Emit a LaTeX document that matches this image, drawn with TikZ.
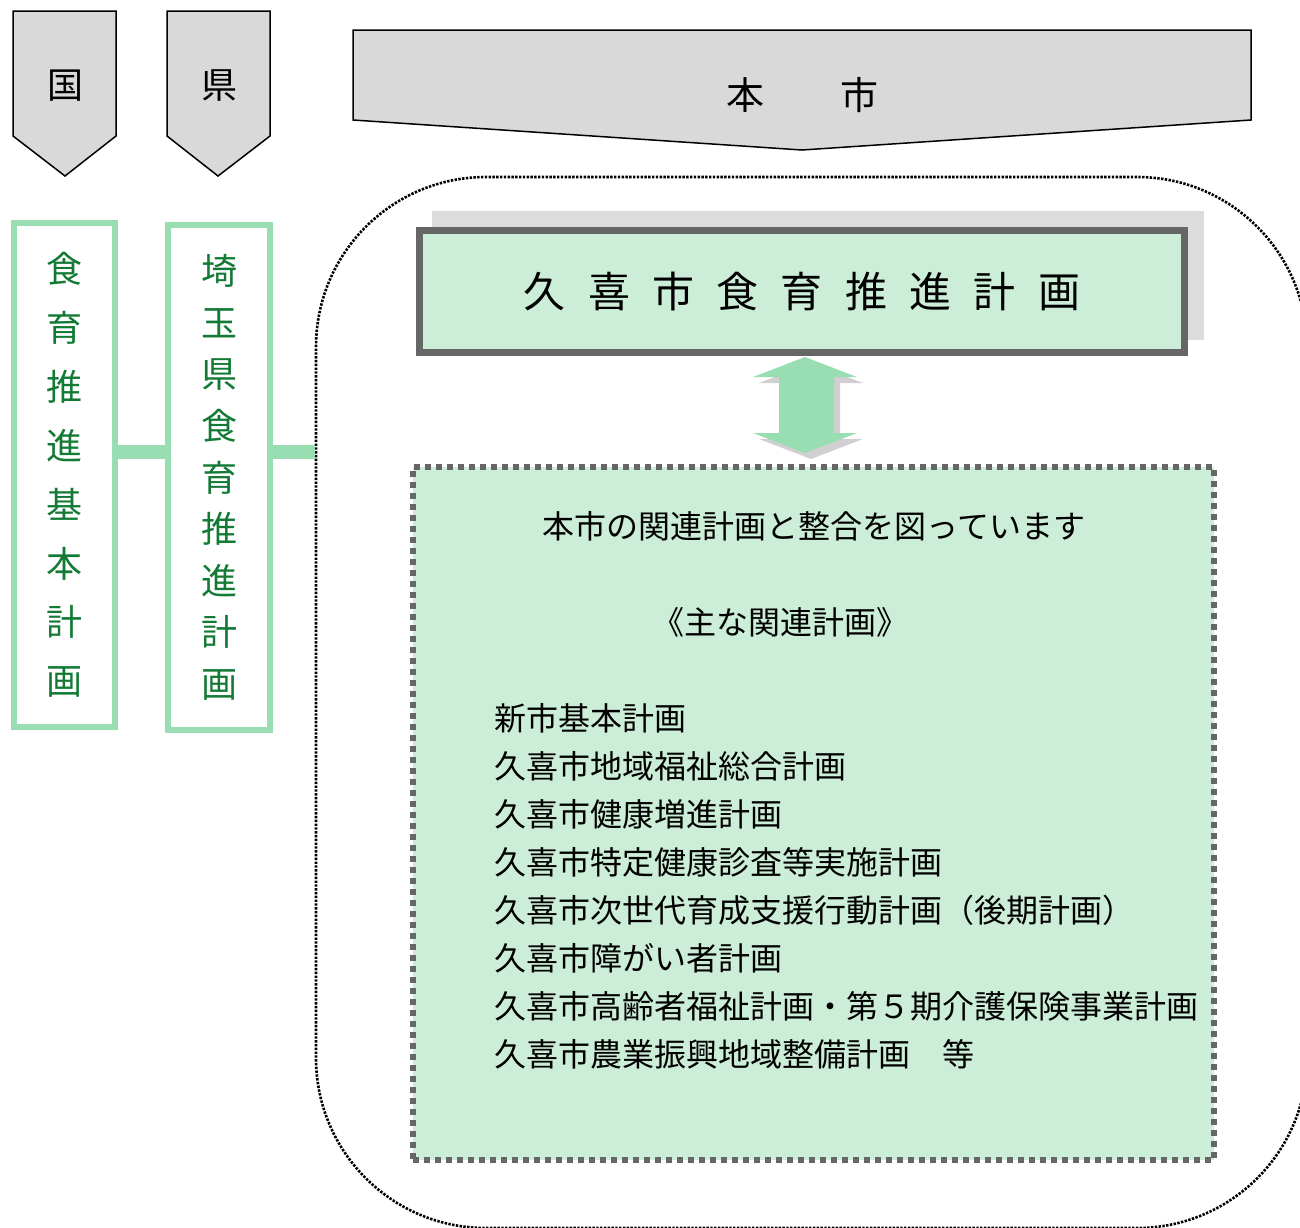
\documentclass[tikz,border=0pt]{standalone}
\usepackage{fontspec}
\setmainfont{Noto Sans CJK JP}
\definecolor{flaggray}{HTML}{D9D9D9}
\definecolor{lgreen}{HTML}{CCEDD8}
\definecolor{mgreen}{HTML}{99DDB3}
\definecolor{tgreen}{HTML}{127A34}
\definecolor{dgray}{HTML}{666666}
\definecolor{shgray}{HTML}{DCDCDC}
\definecolor{arrshadow}{HTML}{D0D0D0}
\newcommand\fsz[1]{\fontsize{#1pt}{#1pt}\selectfont}
\newcommand\tsp[1]{\makebox[64.3pt]{#1}}
\begin{document}
\begin{tikzpicture}[x=1pt,y=-1pt,
  flagshape/.style={draw=black, line width=1.5pt, fill=flaggray, line join=miter},
  flagtext/.style={inner sep=0pt, font=\fsz{36}},
  vbox/.style={draw=mgreen, line width=6pt, fill=white, text=tgreen, align=center, inner sep=0pt},
  conn/.style={draw=mgreen, line width=14pt},
  listtxt/.style={anchor=west, inner sep=0pt, font=\fsz{32}},
  ctrtxt/.style={inner sep=0pt, font=\fsz{32}}]
\useasboundingbox (0,0) rectangle (1300,1227);
\clip (0,0) rectangle (1300,1227);
% flags
\draw[flagshape] (13,11) -- (116,11) -- (116,136) -- (65,176) -- (13,136) -- cycle;
\node[flagtext] (kuni) at (65,86) {国};
\draw[flagshape] (167,11) -- (270,11) -- (270,136) -- (218,176) -- (167,136) -- cycle;
\node[flagtext] (ken) at (219,86) {県};
\draw[flagshape] (353,30) -- (1251,30) -- (1251,120) -- (802,150) -- (353,120) -- cycle;
\node[inner sep=0pt, font=\fsz{38}] (shi) at (802,95) {本　　市};
% dotted region
\node[draw=black, line width=2.6pt, dash pattern=on 2.4pt off 1.4pt, rounded corners=170pt,
      minimum width=991pt, minimum height=1051pt, inner sep=0pt] (region) at (811.5,702.5) {};
% left boxes
\node[vbox, minimum width=101pt, minimum height=504pt, font=\fontsize{36pt}{58.9pt}\selectfont]
  (nat) at (64.5,475) {食\\育\\推\\進\\基\\本\\計\\画};
\node[vbox, minimum width=102pt, minimum height=505pt, font=\fontsize{36pt}{51.6pt}\selectfont]
  (pref) at (219,477.5) {埼\\玉\\県\\食\\育\\推\\進\\計\\画};
\coordinate (cy) at (0,452);
\draw[conn] (nat.east |- cy) -- (pref.west |- cy);
\draw[conn] (pref.east |- cy) -- (region.west |- cy);
% title box
\fill[shgray] (432,211) rectangle (1204,340);
\node[draw=dgray, line width=6.5pt, fill=lgreen, minimum width=765pt, minimum height=122pt,
      inner sep=0pt, font=\fsz{42}] (plan) at (802,291.5)
  {\tsp{久}\tsp{喜}\tsp{市}\tsp{食}\tsp{育}\tsp{推}\tsp{進}\tsp{計}\tsp{画}};
% double arrow
\fill[arrshadow] (811,363) -- (863,383) -- (840,383) -- (840,439) -- (863,439) -- (811,459)
  -- (759,439) -- (785,439) -- (785,383) -- (759,383) -- cycle;
\fill[mgreen] (805,357) -- (857,377) -- (834,377) -- (834,433) -- (857,433) -- (805,453)
  -- (753,433) -- (779,433) -- (779,377) -- (753,377) -- cycle;
% content box
\node[draw=dgray, line width=6pt, dash pattern=on 6pt off 5pt, fill=lgreen,
      minimum width=801pt, minimum height=693pt, inner sep=0pt] (related) at (813.5,813.5) {};
\node[ctrtxt] (intro) at (814,526) {本市の関連計画と整合を図っています};
\node[ctrtxt] (head) at (780,622) {《主な関連計画》};
\node[listtxt] (l1) at (494,718) {新市基本計画};
\node[listtxt] (l2) at (494,766) {久喜市地域福祉総合計画};
\node[listtxt] (l3) at (494,814) {久喜市健康増進計画};
\node[listtxt] (l4) at (494,862) {久喜市特定健康診査等実施計画};
\node[listtxt] (l5) at (494,910) {久喜市次世代育成支援行動計画（後期計画）};
\node[listtxt] (l6) at (494,958) {久喜市障がい者計画};
\node[listtxt] (l7) at (494,1006) {久喜市高齢者福祉計画・第５期介護保険事業計画};
\node[listtxt] (l8) at (494,1054) {久喜市農業振興地域整備計画　等};
\end{tikzpicture}
\end{document}
